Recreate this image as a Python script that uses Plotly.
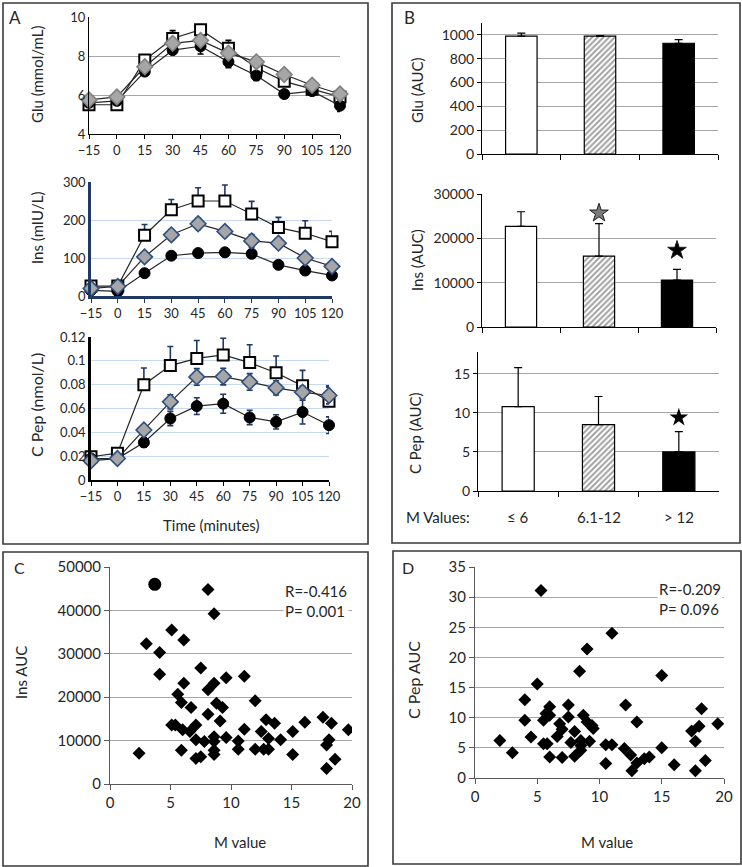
import plotly.graph_objects as go

# ---------------- data ----------------
times = [-15, 0, 15, 30, 45, 60, 75, 90, 105, 120]

glu_sq = [5.5, 5.5, 7.8, 8.9, 9.35, 8.4, 7.4, 6.7, 6.3, 5.9]
glu_dm = [5.75, 5.9, 7.45, 8.65, 8.8, 8.15, 7.7, 7.05, 6.5, 6.05]
glu_ci = [5.6, 5.7, 7.2, 8.3, 8.5, 7.7, 7.0, 6.05, 6.2, 5.45]
glu_sq_err = [0.1, 0.1, 0.2, 0.4, 0.15, 0.4, 0.2, 0.15, 0.15, 0.15]
glu_dm_err = [0.05, 0.05, 0.1, 0.1, 0.1, 0.1, 0.1, 0.1, 0.1, 0.1]
glu_ci_err = [0.1, 0.1, 0.15, 0.2, 0.4, 0.3, 0.25, 0.15, 0.15, 0.3]

ins_sq = [26, 26, 160, 227, 250, 250, 216, 180, 165, 143]
ins_dm = [20, 25, 103, 161, 190, 170, 145, 139, 100, 78]
ins_ci = [15, 12, 60, 106, 113, 115, 111, 82, 67, 54]
ins_sq_err = [0, 0, 28, 27, 35, 42, 33, 27, 33, 27]
ins_dm_err = [3, 4, 10, 14, 15, 13, 17, 12, 8, 6]
ins_ci_err = [2, 2, 5, 6, 6, 6, 6, 5, 5, 5]

cp_sq = [0.0195, 0.0225, 0.080, 0.096, 0.102, 0.105, 0.0985, 0.090, 0.079, 0.066]
cp_dm = [0.0162, 0.018, 0.042, 0.0656, 0.0865, 0.0868, 0.0823, 0.0773, 0.0737, 0.0709]
cp_ci = [0.018, 0.018, 0.0315, 0.0516, 0.062, 0.064, 0.0525, 0.0488, 0.057, 0.046]
cp_sq_err = [0.002, 0.002, 0.014, 0.016, 0.015, 0.014, 0.015, 0.014, 0.013, 0.013]
cp_dm_err = [0.002, 0.002, 0.004, 0.006, 0.007, 0.007, 0.007, 0.006, 0.005, 0.007]
cp_ci_err = [0.002, 0.002, 0.004, 0.006, 0.007, 0.008, 0.006, 0.006, 0.01, 0.007]

groups = ["≤ 6", "6.1-12", "> 12"]
glu_auc = [990, 990, 930]
glu_auc_err = [25, 5, 30]
ins_auc = [22700, 16000, 10600]
ins_auc_err = [3300, 7300, 2400]
cp_auc = [10.8, 8.5, 5.0]
cp_auc_err = [5.0, 3.6, 2.6]
ins_star_y = [None, 25700, 17300]
cp_star_y = [None, None, 9.4]

c_m = [2.4, 3.0, 4.1, 4.1, 5.1, 6.1, 5.6, 5.9, 6.1, 5.1, 5.4, 6.0, 6.6, 5.9, 6.7, 7.5,
       7.1, 7.1, 7.1, 7.5, 7.8, 8.1, 8.1, 8.1, 8.6, 8.6, 8.6, 8.6, 8.6, 8.6, 8.8, 9.3,
       9.1, 9.6, 9.6, 10.6, 10.6, 11.1, 11.1, 12.0, 12.0, 12.5, 12.7, 12.9, 13.1, 13.1,
       13.6, 14.1, 15.1, 15.1, 16.1, 17.6, 17.9, 18.1, 18.3, 17.9, 18.6, 19.7]
c_ins = [7100, 32300, 30300, 25300, 35500, 33200, 20700, 18800, 23200, 13600, 13600,
         12500, 12100, 7800, 17600, 26700, 13600, 10200, 5900, 6300, 9800, 21700, 16100,
         44800, 39200, 23200, 10900, 9800, 7800, 6800, 18600, 17600, 14500, 24500, 10700,
         9900, 8000, 24800, 12600, 19200, 8000, 12100, 8000, 14800, 10500, 8000, 14000,
         10200, 12100, 6800, 14200, 15400, 9000, 10200, 14000, 3600, 5700, 12500]
c_out_m = [3.7]
c_out_ins = [46000]

d_m = [2.0, 3.0, 4.0, 4.0, 4.5, 5.0, 5.3, 5.5, 5.5, 5.8, 5.7, 6.0, 6.0, 6.0, 6.6, 6.8,
       7.0, 7.0, 7.5, 7.5, 7.7, 8.0, 8.0, 8.4, 8.5, 8.5, 8.5, 8.7, 9.0, 9.0, 9.2, 9.4,
       9.5, 10.5, 10.5, 11.0, 11.0, 12.0, 12.1, 12.5, 12.6, 13.0, 13.0, 13.6, 14.0, 15.0,
       15.0, 16.0, 17.4, 17.7, 17.7, 18.0, 18.2, 18.5, 19.5]
d_cp = [6.2, 4.2, 13.0, 9.6, 6.8, 15.6, 31.1, 9.6, 5.7, 5.7, 10.7, 11.8, 10.4, 3.5, 6.9,
        9.0, 8.1, 3.4, 12.1, 10.1, 5.9, 7.7, 3.6, 17.7, 6.2, 5.4, 4.6, 10.4, 21.4, 9.3,
        6.1, 8.7, 8.2, 5.5, 2.4, 5.5, 24.0, 4.9, 12.1, 3.8, 1.2, 9.3, 2.5, 3.2, 3.5, 17.0,
        5.0, 2.2, 7.8, 6.1, 1.2, 8.6, 11.5, 2.9, 9.0]

# ---------------- layout helpers ----------------
W, H = 742, 867
FONT = "Lato"
TXT = "#262626"
NAVY = "#1f3864"


def xd(a, b):
    return [a / W, b / W]


def yd(top, bottom):
    return [1 - bottom / H, 1 - top / H]


def px(x):
    return x / W


def py(y):
    return 1 - y / H


fig = go.Figure()

# ---------- Panel A time series ----------
def add_series(xa, ya, sq, dm, ci, sq_e, dm_e, ci_e, ecol, dm_line, lcol, ci_sym):
    ax = dict(xaxis=xa, yaxis=ya)
    fig.add_trace(go.Scatter(
        x=times, y=sq, mode="lines+markers", cliponaxis=False, **ax,
        line=dict(color=lcol, width=1.2),
        marker=dict(symbol="square", size=11, color="white", line=dict(color="black", width=2)),
        error_y=dict(type="data", symmetric=False, array=sq_e, arrayminus=[0] * 10,
                     color=ecol, thickness=1.6, width=3)))
    fig.add_trace(go.Scatter(
        x=times, y=ci, mode="lines+markers", cliponaxis=False, **ax,
        line=dict(color=lcol, width=1.2),
        marker=dict(symbol="circle", size=11, color="black", line=dict(color="black", width=1)),
        error_y=dict(type="data", symmetric=ci_sym, array=ci_e if ci_sym else [0] * 10,
                     arrayminus=None if ci_sym else ci_e,
                     color=ecol, thickness=1.6, width=3)))
    fig.add_trace(go.Scatter(
        x=times, y=dm, mode="lines+markers", cliponaxis=False, **ax,
        line=dict(color=lcol, width=1.2),
        marker=dict(symbol="diamond", size=12, color="#a6a6a6", line=dict(color=dm_line, width=1.6)),
        error_y=dict(type="data", array=dm_e, color=ecol, thickness=1.6, width=3)))


add_series("x", "y", glu_sq, glu_dm, glu_ci, glu_sq_err, glu_dm_err, glu_ci_err,
           "black", "#7f7f7f", "#262626", False)
add_series("x2", "y2", ins_sq, ins_dm, ins_ci, ins_sq_err, ins_dm_err, ins_ci_err,
           NAVY, "#2f4f7f", "#262626", True)
add_series("x3", "y3", cp_sq, cp_dm, cp_ci, cp_sq_err, cp_dm_err, cp_ci_err,
           NAVY, "#2f4f7f", "#262626", True)

# ---------- Panel B bars ----------
bar_pat = dict(shape=["", "/", ""], fgcolor="#5f5f5f", bgcolor="white", size=4, solidity=0.5)
bar_colors = ["white", "white", "black"]


def add_bars(xa, ya, vals, errs):
    fig.add_trace(go.Bar(
        x=groups, y=vals, xaxis=xa, yaxis=ya, width=0.4,
        marker=dict(color=bar_colors, line=dict(color="black", width=1.2), pattern=bar_pat),
        error_y=dict(type="data", symmetric=False, array=errs, arrayminus=[0, 0, 0],
                     color="black", thickness=1.2, width=4)))


add_bars("x4", "y4", glu_auc, glu_auc_err)
add_bars("x5", "y5", ins_auc, ins_auc_err)
add_bars("x6", "y6", cp_auc, cp_auc_err)

fig.add_trace(go.Scatter(
    x=groups, y=ins_star_y, xaxis="x5", yaxis="y5", mode="markers", cliponaxis=False,
    marker=dict(symbol="star", size=14, color=["black", "#7a7a7a", "black"],
                line=dict(color="#202020", width=1))))
fig.add_trace(go.Scatter(
    x=groups, y=cp_star_y, xaxis="x6", yaxis="y6", mode="markers", cliponaxis=False,
    marker=dict(symbol="star", size=14, color="black")))

# ---------- Panels C & D scatter ----------
fig.add_trace(go.Scatter(x=c_m, y=c_ins, xaxis="x7", yaxis="y7", mode="markers",
                         marker=dict(symbol="diamond", size=10, color="black")))
fig.add_trace(go.Scatter(x=c_out_m, y=c_out_ins, xaxis="x7", yaxis="y7", mode="markers",
                         marker=dict(symbol="circle", size=13, color="black")))
fig.add_trace(go.Scatter(x=d_m, y=d_cp, xaxis="x8", yaxis="y8", mode="markers",
                         marker=dict(symbol="diamond", size=10, color="black")))

# ---------- axes ----------
tickfont = dict(family=FONT, size=13, color=TXT)
tickfont_b = dict(family=FONT, size=14, color=TXT)


def ts_x(dom, anchor, lc, lw):
    return dict(domain=dom, anchor=anchor, range=[-15, 120], tickvals=times,
                showgrid=False, zeroline=False, showline=True, linecolor=lc, linewidth=lw,
                ticks="outside", ticklen=4, tickcolor=lc, tickfont=tickfont,
                automargin=False)


def ts_y(dom, anchor, rng, dtick, gc, lc, lw):
    return dict(domain=dom, anchor=anchor, range=rng, dtick=dtick, showgrid=True,
                gridcolor=gc, gridwidth=1, zeroline=False, showline=True, linecolor=lc,
                linewidth=lw, ticks="", tickfont=tickfont, automargin=False)


layout = dict(
    width=W, height=H, margin=dict(l=0, r=0, t=0, b=0, pad=0), autosize=False,
    paper_bgcolor="white", plot_bgcolor="white", showlegend=False,
    font=dict(family=FONT, color=TXT),
    xaxis=ts_x(xd(89, 340), "y", "black", 1),
    yaxis=ts_y(yd(17, 134), "x", [4, 10], 2, "#a6a6a6", "black", 1),
    xaxis2=ts_x(xd(91, 332), "y2", NAVY, 2.5),
    yaxis2=ts_y(yd(182, 296), "x2", [0, 300], 100, "#c6d9f1", NAVY, 2.5),
    xaxis3=ts_x(xd(91, 329), "y3", "black", 1.5),
    yaxis3=ts_y(yd(337, 480), "x3", [0, 0.12], 0.02, "#c6d9f1", "black", 2.5),
)


def bar_x(dom, anchor):
    return dict(domain=dom, anchor=anchor, type="category", showticklabels=False,
                showgrid=False, zeroline=False, showline=True, linecolor="black",
                linewidth=1, ticks="outside", tickson="boundaries", ticklen=5,
                tickcolor="black", range=[-0.5, 2.5], automargin=False)


def bar_y(dom, anchor, rng, dtick):
    return dict(domain=dom, anchor=anchor, range=rng, dtick=dtick, showgrid=True,
                gridcolor="#a6a6a6", zeroline=False, showline=True, linecolor="black",
                linewidth=1, ticks="outside", ticklen=4, tickcolor="black",
                tickfont=tickfont_b, tickformat="d", automargin=False)


layout.update(
    xaxis4=bar_x(xd(482, 718), "y4"),
    yaxis4=bar_y(yd(23, 154), "x4", [0, 1100], 200),
    xaxis5=bar_x(xd(482, 716), "y5"),
    yaxis5=bar_y(yd(194, 327), "x5", [0, 30000], 10000),
    xaxis6=bar_x(xd(478, 719), "y6"),
    yaxis6=bar_y(yd(352, 491), "x6", [0, 17.8], 5),
)

sc_font = dict(family=FONT, size=15, color=TXT)


def sc_x(dom, anchor):
    return dict(domain=dom, anchor=anchor, range=[0, 20], dtick=5, showgrid=False,
                zeroline=False, showline=True, linecolor="#595959", linewidth=1,
                ticks="outside", ticklen=5, tickcolor="#595959", tickfont=sc_font,
                automargin=False)


def sc_y(dom, anchor, rng, dtick):
    return dict(domain=dom, anchor=anchor, range=rng, dtick=dtick, showgrid=True,
                gridcolor="#a6a6a6", zeroline=False, showline=True, linecolor="#595959",
                linewidth=1, ticks="outside", ticklen=5, tickcolor="#595959",
                tickfont=sc_font, tickformat="d", automargin=False)


layout.update(
    xaxis7=sc_x(xd(110, 352), "y7"),
    yaxis7=sc_y(yd(567, 784), "x7", [0, 50000], 10000),
    xaxis8=sc_x(xd(475, 724), "y8"),
    yaxis8=sc_y(yd(567, 778), "x8", [0, 35], 5),
)
fig.update_layout(**layout)

# ---------- panel boxes ----------
for (x0, y0, x1, y1) in [(3, 3, 368, 544), (392, 3, 740, 543), (3, 552, 368, 866), (393, 551, 741, 864)]:
    fig.add_shape(type="rect", xref="paper", yref="paper", x0=px(x0), x1=px(x1),
                  y0=py(y1), y1=py(y0), line=dict(color="#3a3a3a", width=1.6), layer="below")

# ---------- annotations ----------
def ann(text, x, y, size=15, angle=0, xanchor="center", bg=None, **kw):
    d = dict(text=text, x=px(x), y=py(y), xref="paper", yref="paper", showarrow=False,
             font=dict(family=FONT, size=size, color=TXT), textangle=angle,
             xanchor=xanchor, yanchor="middle")
    if bg:
        d["bgcolor"] = bg
    d.update(kw)
    fig.add_annotation(**d)


ann("A", 15, 18, size=17)
ann("B", 409, 18, size=17)
ann("C", 19, 567, size=16)
ann("D", 408, 567, size=16)

ann("Glu (mmol/mL)", 37, 74, size=15, angle=-90)
ann("Ins (mIU/L)", 37, 228, size=15, angle=-90)
ann("C Pep (nmol/L)", 36, 405, size=16, angle=-90)
ann("Time (minutes)", 211, 525, size=15)

ann("Glu (AUC)", 417, 90, size=15, angle=-90)
ann("Ins (AUC)", 417, 260, size=15, angle=-90)
ann("C Pep (AUC)", 415, 433, size=15, angle=-90)
ann("M Values:", 438, 517, size=15)
for g in groups:
    fig.add_annotation(text=g, x=g, xref="x6", y=py(517), yref="paper", showarrow=False,
                       font=dict(family=FONT, size=15, color=TXT), yanchor="middle")

ann("Ins AUC", 21, 673, size=15, angle=-90)
ann("M value", 240, 842, size=15)
ann("R=-0.416<br>P= 0.001", 349, 601, size=15, xanchor="right", bg="white", align="left")

ann("C Pep AUC", 413, 680, size=16, angle=-90)
ann("M value", 607, 842, size=15)
ann("R=-0.209<br>P= 0.096", 723, 599, size=15, xanchor="right", bg="white", align="left")

fig.write_html("out.html", config={"displayModeBar": False},
               post_script="document.body.style.margin='0px';document.body.style.overflow='hidden';")
